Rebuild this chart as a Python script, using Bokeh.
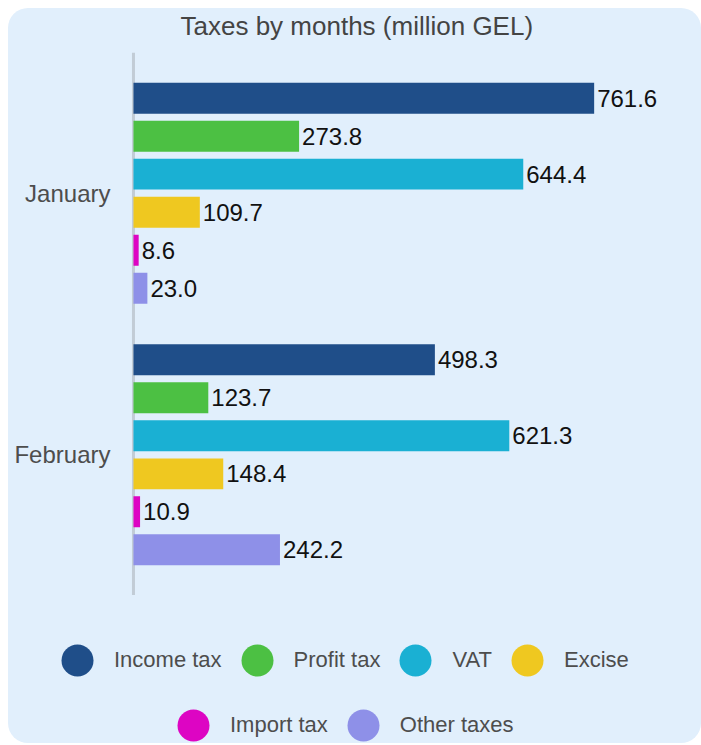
from bokeh.plotting import figure
from bokeh.layouts import column
from bokeh.models import ColumnDataSource, FactorRange, Range1d, Legend, LegendItem, Span
from bokeh.transform import dodge
from bokeh.core.properties import value
from bokeh.embed import file_html
from bokeh.resources import INLINE

# ---- data ----
months = ["January", "February"]
tax_names = ["Income tax", "Profit tax", "VAT", "Excise", "Import tax", "Other taxes"]
income_tax = [761.6, 498.3]
profit_tax = [273.8, 123.7]
vat = [644.4, 621.3]
excise = [109.7, 148.4]
import_tax = [8.6, 10.9]
other_taxes = [23.0, 242.2]
series = [income_tax, profit_tax, vat, excise, import_tax, other_taxes]

# ---- styles ----
colors = ["#1f4e89", "#4cc043", "#1ab0d3", "#efc820", "#dd05c3", "#8e90e8"]
offsets = [0.363, 0.218, 0.073, -0.073, -0.218, -0.363]
bar_h = 0.1185
bg = "#e1effc"
FONT = "Liberation Sans"


def clean(fig):
    fig.background_fill_color = None
    fig.border_fill_color = None
    fig.outline_line_color = None
    fig.grid.visible = False


# ---- title strip ----
pt = figure(width=693, height=44, x_range=Range1d(0, 1), y_range=Range1d(0, 1),
            x_axis_location=None, y_axis_location=None, output_backend="svg",
            toolbar_location=None, min_border=0, title="Taxes by months (million GEL)")
clean(pt)
pt.title.align = "left"
pt.title.offset = 172
pt.title.standoff = 1
pt.title.text_font = FONT
pt.title.text_font_size = "26px"
pt.title.text_font_style = "normal"
pt.title.text_color = "#444444"

# ---- main chart ----
p = figure(
    width=693, height=543,
    y_range=FactorRange(factors=months[::-1], range_padding=0.038, range_padding_units="absolute"),
    x_range=Range1d(-206.6, 906),
    x_axis_location=None, y_axis_location=None,
    output_backend="svg", toolbar_location=None,
    min_border_left=0, min_border_right=20, min_border_top=0, min_border_bottom=0,
)
clean(p)

# category axis line along the bars' baseline
p.add_layout(Span(location=0, dimension="height", line_color="#c2ccd6", line_width=3, level="underlay"))

# month labels
msrc = ColumnDataSource(dict(month=months, base=[0] * len(months)))
p.text(x="base", y="month", text="month", x_offset=-23, text_align="right", text_baseline="middle",
       text_font=value(FONT), text_font_size="24px", text_color="#4d4d4d", source=msrc)

# ---- legend strip ----
pl = figure(
    width=693, height=148,
    x_range=Range1d(0, 1), y_range=FactorRange(factors=months),
    x_axis_location=None, y_axis_location=None,
    output_backend="svg", toolbar_location=None, min_border=0,
)
clean(pl)

legend_renderers = []
for name, vals, col, off in zip(tax_names, series, colors, offsets):
    src = ColumnDataSource(dict(month=months, value=vals, label=[f"{v:.1f}" for v in vals]))
    ypos = dodge("month", off, range=p.y_range)
    p.hbar(y=ypos, left=0, right="value", height=bar_h, color=col, line_color=None, source=src)
    p.text(x="value", y=ypos, text="label", x_offset=3, text_baseline="middle", text_align="left",
           text_font=value(FONT), text_font_size="24px", text_color="#111111", source=src)
    # legend proxy: same data shifted far outside the visible x range (clipped by the frame)
    e = pl.ellipse(x=dodge("value", -5000), y="month", width=32, height=32,
                   width_units="screen", height_units="screen",
                   fill_color=col, line_color=None, source=src)
    legend_renderers.append(e)

common = dict(orientation="horizontal", glyph_width=40, glyph_height=40, label_standoff=17, spacing=15,
              padding=0, margin=0, border_line_color=None, background_fill_alpha=0,
              label_text_font=FONT, label_text_font_size="22px", label_text_color="#4d4d4d")
leg1 = Legend(items=[LegendItem(label=n, renderers=[r]) for n, r in zip(tax_names[:4], legend_renderers[:4])],
              location=(49, 63), **common)
leg2 = Legend(items=[LegendItem(label=n, renderers=[r]) for n, r in zip(tax_names[4:], legend_renderers[4:])],
              location=(165, -2), **common)
pl.add_layout(leg1)
pl.add_layout(leg2)

layout = column(pt, p, pl, spacing=0)
layout.styles = {"margin-left": "8px", "margin-top": "8px", "background-color": bg,
                 "border-radius": "20px", "overflow": "hidden"}

open("out.html", "w").write(file_html(layout, INLINE))
